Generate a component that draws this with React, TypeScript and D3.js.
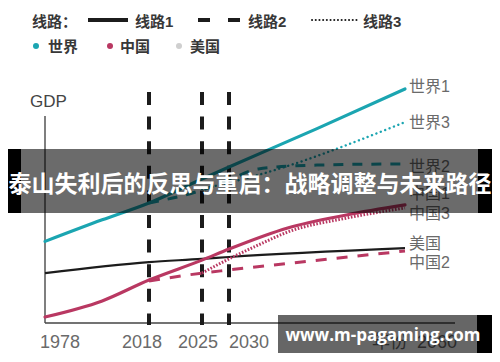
import React from "react";
import * as d3 from "d3";

// schematic GDP paths (index units)
const world1Years = [1978, 2000, 2018, 2025, 2030, 2045, 2060];
const world1Values = [34, 43, 50, 60, 65, 81, 97.5];
const world2Years = [2018, 2025, 2030, 2035, 2045, 2060];
const world2Values = [50, 55.4, 59.6, 64.2, 65.8, 66.3];
const world3Years = [2025, 2035, 2060];
const world3Values = [55.8, 61.7, 83.7];
const usYears = [1978, 2018, 2025, 2030, 2060];
const usValues = [20.8, 25.4, 26.7, 27.5, 31.2];
const china1Years = [1978, 2000, 2018, 2025, 2030, 2040, 2050, 2060];
const china1Values = [2.5, 9.2, 17.9, 26.2, 30.8, 39.6, 45, 49.2];
const china2Years = [2018, 2025, 2030, 2060];
const china2Values = [17.5, 20.8, 22.1, 30];
const china3Years = [2025, 2030, 2035, 2040, 2050, 2060];
const china3Values = [20.8, 26.7, 32.5, 37.9, 43.7, 47.9];

const markerYears = [2018, 2025, 2030];
const tickYears = [1978, 2018, 2025, 2030];
const tickLabels = ["1978", "2018", "2025", "2030"];
const endLabels = ["世界1", "世界3", "世界2", "中国1", "中国3", "美国", "中国2"];
const endLabelValues = [98.5, 83.7, 65.5, 54.2, 45.8, 33.3, 25.4];

const TEAL = "#1ba5b1";
const RED = "#b93862";
const DARK = "#1c1c1c";
const CJK = "'Liberation Sans', 'Noto Sans CJK SC', sans-serif";

export default function App() {
  const width = 500;
  const height = 362;

  // the source axis is not uniform, so a polylinear scale
  const x = d3.scaleLinear().domain([1978, 2018, 2025, 2030, 2060]).range([45, 149, 202, 229, 405]);
  const xLabel = d3.scaleLinear().domain([1978, 2018, 2025, 2030, 2060]).range([60, 142, 198, 249, 437]);
  const y = d3.scaleLinear().domain([0, 100]).range([323, 83]);

  const line = d3
    .line<number>()
    .x((d, i, arr: any) => 0)
    .curve(d3.curveMonotoneX);

  const path = (years: number[], values: number[]) =>
    d3
      .line<number>()
      .x((_, i) => x(years[i]))
      .y((v) => y(v))
      .curve(d3.curveMonotoneX)(values) as string;

  const series = [
    { d: path(usYears, usValues), color: DARK, w: 2.2, dash: null, cap: "butt" },
    { d: path(china2Years, china2Values), color: RED, w: 3, dash: "11 10", cap: "butt" },
    { d: path(china3Years, china3Values), color: RED, w: 3, dash: "1.6 1.6", cap: "butt" },
    { d: path(china1Years, china1Values), color: RED, w: 3.2, dash: null, cap: "round" },
    { d: path(world2Years, world2Values), color: TEAL, w: 3, dash: "10 9", cap: "butt" },
    { d: path(world3Years, world3Values), color: TEAL, w: 2.4, dash: "0.1 4.6", cap: "round" },
    { d: path(world1Years, world1Values), color: TEAL, w: 3.2, dash: null, cap: "round" },
  ];

  return (
    <svg
      width={width}
      height={height}
      viewBox={`0 0 ${width} ${height}`}
      style={{ position: "absolute", left: 0, top: 0, background: "#fff" }}
    >
      <rect x={0} y={0} width={width} height={height} fill="#fff" />

      {/* legend */}
      <g fontFamily={CJK} fontSize={15} fontWeight={700} fill="#383838">
        <text x={32} y={27}>线路：</text>
        <line x1={88} x2={128} y1={20} y2={20} stroke={DARK} strokeWidth={4} />
        <text x={135} y={27}>线路1</text>
        <line x1={198} x2={240} y1={20} y2={20} stroke={DARK} strokeWidth={4} strokeDasharray="12 18" />
        <text x={248} y={27}>线路2</text>
        <line x1={312} x2={357} y1={20} y2={20} stroke={DARK} strokeWidth={2} strokeDasharray="0.1 3.6" strokeLinecap="round" />
        <text x={363} y={27}>线路3</text>

        <circle cx={36} cy={46} r={3} fill={TEAL} />
        <text x={48} y={52}>世界</text>
        <circle cx={110} cy={46} r={3} fill={RED} />
        <text x={120} y={52}>中国</text>
        <circle cx={179} cy={46} r={3} fill="#cfcfcf" />
        <text x={190} y={52}>美国</text>
      </g>

      {/* axes */}
      <text x={30} y={107} fontFamily="'Liberation Sans', Arial, sans-serif" fontSize={17} fill="#444">GDP</text>
      <line x1={45} x2={45} y1={116} y2={323} stroke="#555" strokeWidth={1.5} />
      <line x1={45} x2={455} y1={323} y2={323} stroke="#444" strokeWidth={1.5} />

      {markerYears.map((yr) => (
        <line
          key={yr}
          x1={x(yr)}
          x2={x(yr)}
          y1={92}
          y2={325}
          stroke={DARK}
          strokeWidth={4}
          strokeDasharray="13 11.6"
        />
      ))}

      <g fontFamily="'Liberation Sans', Arial, sans-serif" fontSize={18} fill="#6a6a6a" textAnchor="middle">
        {tickYears.map((yr, i) => (
          <text key={yr} x={xLabel(yr)} y={348}>{tickLabels[i]}</text>
        ))}
        <text x={390} y={348} fontFamily={CJK}>年份</text>
        <text x={xLabel(2060)} y={348}>2060</text>
      </g>

      {series.map((s, i) => (
        <path
          key={i}
          d={s.d}
          fill="none"
          stroke={s.color}
          strokeWidth={s.w}
          strokeDasharray={s.dash || undefined}
          strokeLinecap={s.cap as any}
        />
      ))}

      <g fontFamily={CJK} fontSize={16} fill="#6a6a6a">
        {endLabels.map((t, i) => (
          <text key={t} x={409} y={y(endLabelValues[i])} dy="0.36em">{t}</text>
        ))}
      </g>

      {/* video title overlay */}
      <rect x={8} y={149} width={484} height={64} fill="rgba(0,0,0,0.58)" />
      <rect x={8} y={149} width={13} height={64} fill="#000" />
      <rect x={478} y={149} width={14} height={64} fill="#000" />
      <text
        x={250}
        y={192}
        textAnchor="middle"
        fontFamily="'Noto Sans CJK SC', sans-serif"
        fontWeight={700}
        fontSize={23}
        fill="#fff"
      >
        泰山失利后的反思与重启：战略调整与未来路径
      </text>

      {/* watermark */}
      <rect x={278} y={315} width={214} height={38} fill="rgba(0,0,0,0.6)" />
      <rect x={477} y={315} width={15} height={38} fill="#000" />
      <text
        x={383}
        y={341}
        textAnchor="middle"
        fontFamily="'Open Sans', 'Noto Sans', sans-serif"
        fontWeight={700}
        fontSize={17}
        fill="#fff"
      >
        www.m-pagaming.com
      </text>
    </svg>
  );
}
